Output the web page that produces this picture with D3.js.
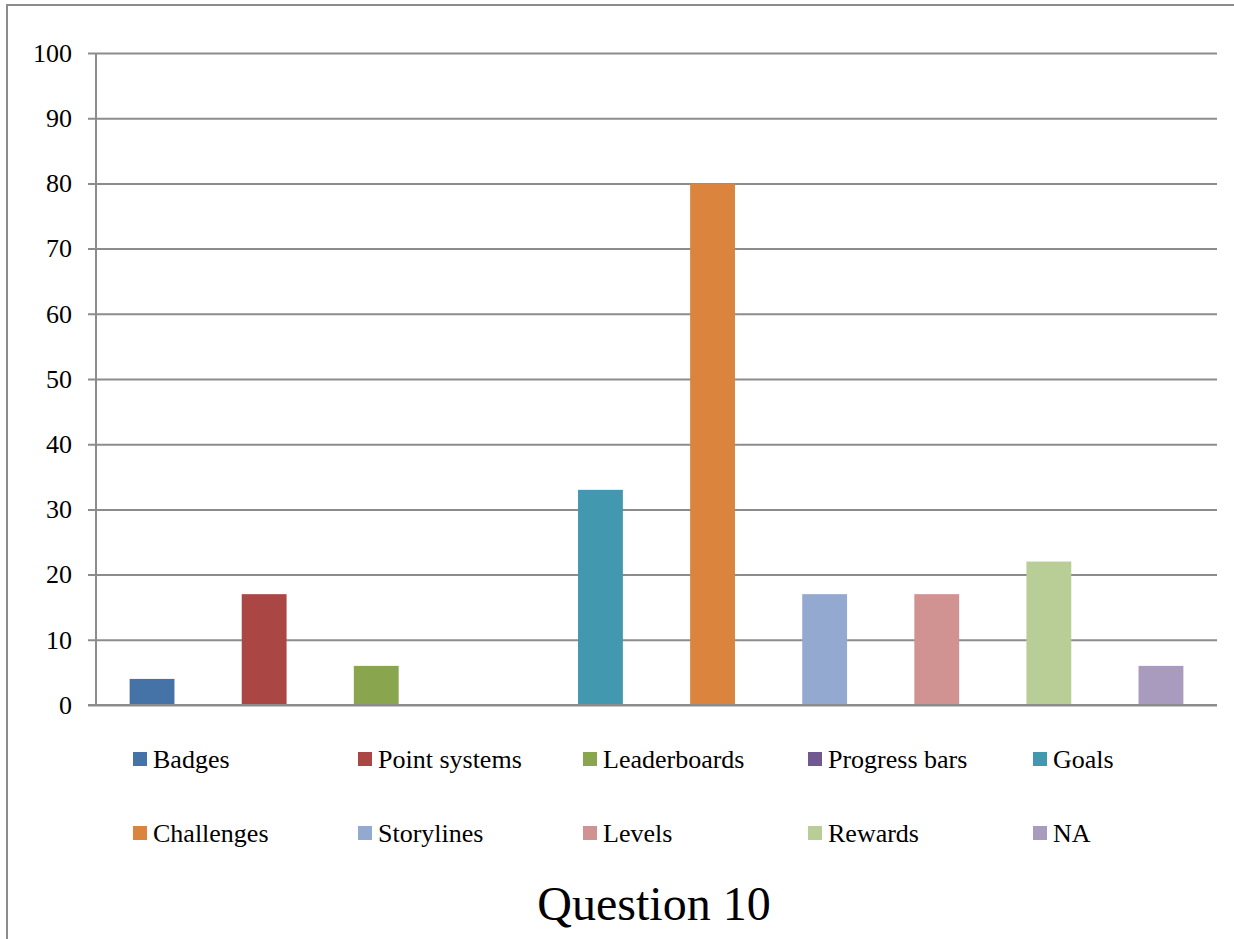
<!DOCTYPE html>
<html>
<head>
<meta charset="utf-8">
<script src="https://cdn.jsdelivr.net/npm/d3@7"></script>
<style>
  html, body { margin: 0; padding: 0; background: #fff; }
  svg { display: block; }
  text { font-family: "Liberation Serif", "Times New Roman", serif; fill: #000; }
</style>
</head>
<body>
<script>
// Survey results for Question 10: share of responses per game element
const categories = ["Badges", "Point systems", "Leaderboards", "Progress bars", "Goals",
                    "Challenges", "Storylines", "Levels", "Rewards", "NA"];
const values = [4, 17, 6, 0, 33, 80, 17, 17, 22, 6];
const colors = ["#4572A7", "#AA4643", "#89A54E", "#71588F", "#4198AF",
                "#DB843D", "#93A9CF", "#D19392", "#B9CD96", "#A99BBD"];
const yTicks = [0, 10, 20, 30, 40, 50, 60, 70, 80, 90, 100];
const title = "Question 10";

const W = 1234, H = 939;
const plot = { left: 96, right: 1217, top: 53, bottom: 705 };
const gridColor = "#8c8c8c";

const svg = d3.select("body").append("svg").attr("width", W).attr("height", H);

// chart frame (top and left edges)
svg.append("path")
  .attr("d", `M7,${H} V5 H${W}`)
  .attr("fill", "none").attr("stroke", gridColor).attr("stroke-width", 2);

const x = d3.scaleBand().domain(categories).range([plot.left, plot.right]).paddingInner(0.6).paddingOuter(0.3);
const y = d3.scaleLinear().domain([0, 100]).range([plot.bottom, plot.top]);

// horizontal gridlines + y axis labels
const yAxis = d3.axisLeft(y).tickValues(yTicks).tickSize(-(plot.right - plot.left)).tickPadding(24);
const gy = svg.append("g").attr("transform", `translate(${plot.left},0)`).call(yAxis)
  .attr("font-size", 26).attr("font-family", "Liberation Serif, serif");
gy.select(".domain").remove();
gy.selectAll(".tick line").attr("stroke", gridColor).attr("stroke-width", 2).attr("x1", -8);
gy.selectAll(".tick text").attr("fill", "#000");

// vertical axis line
svg.append("line")
  .attr("x1", plot.left).attr("x2", plot.left)
  .attr("y1", y(100)).attr("y2", plot.bottom)
  .attr("stroke", gridColor).attr("stroke-width", 2);

// bars
svg.append("g").selectAll("rect")
  .data(categories.map((c, i) => ({ c, v: values[i], col: colors[i] })))
  .join("rect")
  .attr("x", d => x(d.c))
  .attr("width", x.bandwidth())
  .attr("y", d => y(d.v))
  .attr("height", d => y(0) - y(d.v))
  .attr("fill", d => d.col);

// baseline drawn over bars
svg.append("line")
  .attr("x1", plot.left - 8).attr("x2", plot.right)
  .attr("y1", y(0)).attr("y2", y(0))
  .attr("stroke", gridColor).attr("stroke-width", 2);

// legend: two rows of five
const legend = svg.append("g");
const colX = d3.scaleLinear().domain([0, 1]).range([133, 358]);
const rowY = [752, 826];
categories.forEach((c, i) => {
  const gx = colX(i % 5), gyy = rowY[Math.floor(i / 5)];
  const g = legend.append("g").attr("transform", `translate(${gx},${gyy})`);
  g.append("rect").attr("width", 14).attr("height", 14).attr("fill", colors[i]);
  g.append("text").attr("x", 20).attr("y", 16).attr("font-size", 26).text(c);
});

// title
svg.append("text")
  .attr("x", 654).attr("y", 920)
  .attr("text-anchor", "middle").attr("font-size", 48)
  .text(title);
</script>
</body>
</html>
